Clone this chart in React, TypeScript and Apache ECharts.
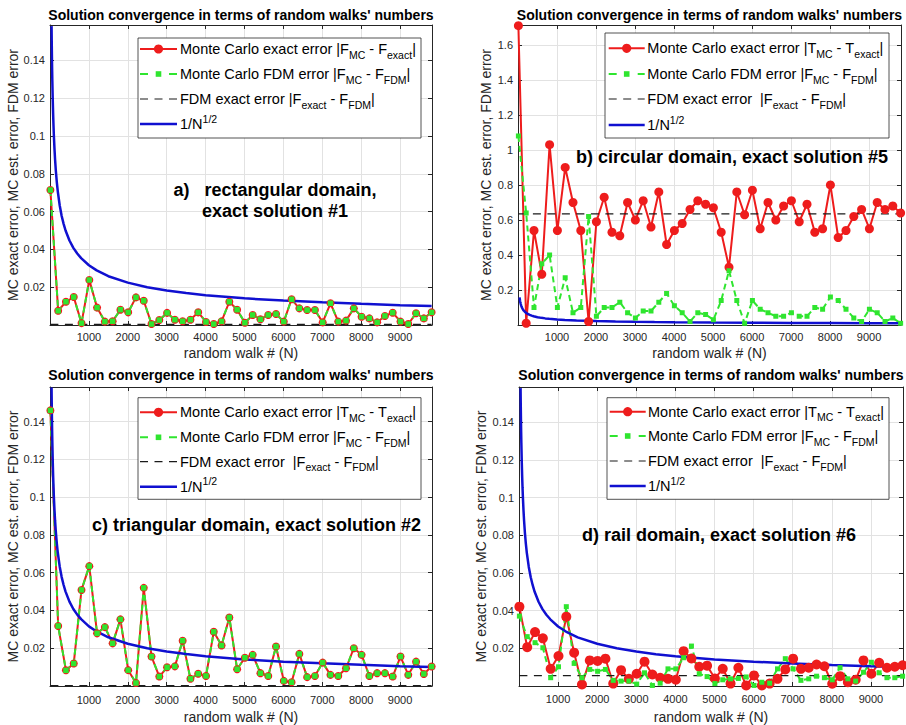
import React, { useEffect, useRef } from "react";
import * as echarts from "echarts";

const FONT = "'Liberation Sans', Arial, Helvetica, sans-serif";
const RED = "#ee1c1c";
const GREEN = "#2fe52f";
const BLUE = "#1010d0";
const BLACK = "#1a1a1a";
const AX = "#262626";
const GRIDC = "#e2e2e2";

// random walk numbers N
const walks = [
  10, 210, 410, 610, 810, 1010, 1210, 1410, 1610, 1810,
  2010, 2210, 2410, 2610, 2810, 3010, 3210, 3410, 3610, 3810,
  4010, 4210, 4410, 4610, 4810, 5010, 5210, 5410, 5610, 5810,
  6010, 6210, 6410, 6610, 6810, 7010, 7210, 7410, 7610, 7810,
  8010, 8210, 8410, 8610, 8810, 9010, 9210, 9410, 9610, 9810,
];

// a) rectangular domain
const redA = [
  0.0714, 0.0075, 0.0123, 0.0148, 0.001, 0.0238, 0.0092, 0.0018, 0.002, 0.0081,
  0.0067, 0.0146, 0.0128, 0.0005, 0.0026, 0.0064, 0.0028, 0.002, 0.0028, 0.0067,
  0.0016, 0.0005, 0.0019, 0.0123, 0.0081, 0.0012, 0.0053, 0.003, 0.0053, 0.0058,
  0.0018, 0.0136, 0.0088, 0.0079, 0.0079, 0.0014, 0.0115, 0.0018, 0.0023, 0.0088,
  0.0044, 0.0035, 0.0014, 0.0048, 0.0065, 0.0018, 0.0005, 0.0062, 0.0035, 0.0067,
];
const greenA = [
  0.0714, 0.0075, 0.0123, 0.0148, 0.001, 0.0238, 0.0092, 0.0018, 0.002, 0.0081,
  0.0067, 0.0146, 0.0128, 0.0005, 0.0026, 0.0064, 0.0028, 0.002, 0.0028, 0.0067,
  0.0016, 0.0005, 0.0019, 0.0123, 0.0081, 0.0012, 0.0053, 0.003, 0.0053, 0.0058,
  0.0018, 0.0136, 0.0088, 0.0079, 0.0079, 0.0014, 0.0115, 0.0018, 0.0023, 0.0088,
  0.0044, 0.0035, 0.0014, 0.0048, 0.0065, 0.0018, 0.0005, 0.0062, 0.0035, 0.0067,
];
const fdmA = 0.0003;

// b) circular domain
const redB = [
  1.71, 0.01, 0.54, 0.29, 1.03, 0.54, 0.9, 0.7, 0.54, 0.02,
  0.59, 0.73, 0.53, 0.51, 0.7, 0.6, 0.71, 0.56, 0.76, 0.46,
  0.54, 0.58, 0.66, 0.71, 0.69, 0.67, 0.53, 0.33, 0.76, 0.63,
  0.77, 0.55, 0.7, 0.6, 0.68, 0.71, 0.59, 0.69, 0.53, 0.55,
  0.8, 0.5, 0.54, 0.62, 0.66, 0.55, 0.7, 0.66, 0.68, 0.64,
];
const greenB = [
  1.08, 0.64, 0.1, 0.35, 0.4, 0.1, 0.27, 0.07, 0.1, 0.62,
  0.05, 0.1, 0.1, 0.13, 0.07, 0.04, 0.08, 0.08, 0.13, 0.18,
  0.11, 0.07, 0.02, 0.07, 0.06, 0.03, 0.14, 0.31, 0.14, 0.01,
  0.14, 0.09, 0.07, 0.05, 0.05, 0.07, 0.05, 0.05, 0.1, 0.09,
  0.16, 0.14, 0.09, 0.04, 0.02, 0.09, 0.07, 0.02, 0.04, 0.01,
];
const fdmB = 0.635;

// c) triangular domain
const redC = [
  0.146, 0.0318, 0.0083, 0.0119, 0.0509, 0.0635, 0.0279, 0.0312, 0.0226, 0.0353,
  0.0084, 0.0016, 0.052, 0.0156, 0.005, 0.0099, 0.0104, 0.024, 0.0038, 0.0065,
  0.0053, 0.0287, 0.0215, 0.0363, 0.0089, 0.015, 0.0165, 0.0068, 0.0053, 0.0209,
  0.0027, 0.002, 0.017, 0.0047, 0.0053, 0.0124, 0.0059, 0.0053, 0.0094, 0.02,
  0.0165, 0.0053, 0.0068, 0.0068, 0.005, 0.0156, 0.0059, 0.0129, 0.0064, 0.0103,
];
const greenC = [
  0.146, 0.0318, 0.0083, 0.0119, 0.0509, 0.0635, 0.0279, 0.0312, 0.0226, 0.0353,
  0.0084, 0.0016, 0.052, 0.0156, 0.005, 0.0099, 0.0104, 0.024, 0.0038, 0.0065,
  0.0053, 0.0287, 0.0215, 0.0363, 0.0089, 0.015, 0.0165, 0.0068, 0.0053, 0.0209,
  0.0027, 0.002, 0.017, 0.0047, 0.0053, 0.0124, 0.0059, 0.0053, 0.0094, 0.02,
  0.0165, 0.0053, 0.0068, 0.0068, 0.005, 0.0156, 0.0059, 0.0129, 0.0064, 0.0103,
];
const fdmC = 0.0002;

// d) rail domain
const redD = [
  0.0421, 0.0206, 0.0286, 0.0253, 0.0091, 0.0159, 0.0368, 0.0177, 0.0008, 0.0136,
  0.0133, 0.0145, 0.0013, 0.0084, 0.0038, 0.0065, 0.0129, 0.0061, 0.0044, 0.0038,
  0.0033, 0.0185, 0.0146, 0.0102, 0.0108, 0.004, 0.0091, 0.0013, 0.0097, 0.0003,
  0.0056, 0.0003, 0.0013, 0.0038, 0.0088, 0.0145, 0.0091, 0.0097, 0.0114, 0.0105,
  0.0012, 0.0052, 0.002, 0.0033, 0.0136, 0.0065, 0.0123, 0.0097, 0.0102, 0.011,
];
const greenD = [
  0.0371, 0.0262, 0.023, 0.0203, 0.0044, 0.0102, 0.0421, 0.012, 0.0044, 0.0088,
  0.0078, 0.0088, 0.003, 0.0026, 0.0026, 0.001, 0.007, 0.0003, 0.0015, 0.0091,
  0.0091, 0.015, 0.0212, 0.0065, 0.005, 0.0013, 0.0033, 0.0038, 0.004, 0.0048,
  0.0003, 0.002, 0.0015, 0.0091, 0.0145, 0.0091, 0.003, 0.0038, 0.0052, 0.0044,
  0.0033, 0.0097, 0.0038, 0.0026, 0.0073, 0.0126, 0.007, 0.0044, 0.0044, 0.0052,
];
const fdmD = 0.0055;

// 1/N^(1/2) reference curve, sampled values
const refN = [
  40, 45, 50, 55, 60, 70, 80, 90, 100, 115, 130, 150, 175, 200, 250, 300, 350,
  400, 500, 600, 700, 800, 1000, 1200, 1500, 2000, 2500, 3000, 3500, 4000, 5000,
  6000, 7000, 8000, 9000, 9810,
];
const refVal = [
  0.1581, 0.1491, 0.1414, 0.1348, 0.1291, 0.1195, 0.1118, 0.1054, 0.1, 0.0933,
  0.0877, 0.0816, 0.0756, 0.0707, 0.0632, 0.0577, 0.0535, 0.05, 0.0447, 0.0408,
  0.0378, 0.0354, 0.0316, 0.0289, 0.0258, 0.0224, 0.02, 0.0183, 0.0169, 0.0158,
  0.0141, 0.0129, 0.012, 0.0112, 0.0105, 0.0101,
];

const titleText = "Solution convergence in terms of random walks' numbers";
const xName = "random walk # (N)";
const yName = "MC exact error, MC est. error, FDM error";

const legendF = [
  "{m|Monte Carlo exact error |F}{s|MC}{m| - F}{s|exact}{m||}",
  "{m|Monte Carlo FDM error |F}{s|MC}{m| - F}{s|FDM}{m||}",
  "{m|FDM exact error |F}{s|exact}{m| - F}{s|FDM}{m||}",
  "{m|1/N}{p|1/2}",
];
const legendT = [
  "{m|Monte Carlo exact error |T}{s|MC}{m| - T}{s|exact}{m||}",
  "{m|Monte Carlo FDM error |F}{s|MC}{m| - F}{s|FDM}{m||}",
  "{m|FDM exact error  |F}{s|exact}{m| - F}{s|FDM}{m||}",
  "{m|1/N}{p|1/2}",
];

const notes = [
  "a)   rectangular domain,\nexact solution #1",
  "b) circular domain, exact solution #5",
  "c) triangular domain, exact solution #2",
  "d) rail domain, exact solution #6",
];

const series = [
  { red: redA, green: greenA, fdm: fdmA, legend: legendF },
  { red: redB, green: greenB, fdm: fdmB, legend: legendT },
  { red: redC, green: greenC, fdm: fdmC, legend: legendT },
  { red: redD, green: greenD, fdm: fdmD, legend: legendT },
];

// layout (pixels)
const layout = [
  { left: 50, top: 25, width: 382, height: 300, yMax: 0.1587, yInt: 0.02, titleY: 15.3,
    noteX: 275, noteY: 200.5, box: [138, 38, 283, 100], rows: [49, 74, 99, 124],
    lineX: [140, 177], textX: 180, xNameGap: 21, yNameGap: 30, xMargin: 6, redSize: 8, greenSize: 5.5 },
  { left: 518, top: 25, width: 383, height: 300, yMax: 1.714, yInt: 0.2, titleY: 15.3,
    noteX: 732, noteY: 157, box: [605, 33, 284, 105], rows: [48.3, 74, 99, 125],
    lineX: [608.7, 644.7], textX: 647.3, xNameGap: 21, yNameGap: 25, xMargin: 6, redSize: 9, greenSize: 5 },
  { left: 50, top: 387, width: 382, height: 299, yMax: 0.1584, yInt: 0.02, titleY: 375.3,
    noteX: 256.5, noteY: 525, box: [138, 397.7, 283, 101.6], rows: [412.3, 437.3, 461.7, 486.7],
    lineX: [140, 177], textX: 180, xNameGap: 24, yNameGap: 30, xMargin: 8, redSize: 8, greenSize: 5.5 },
  { left: 519, top: 387, width: 384, height: 299, yMax: 0.1587, yInt: 0.02, titleY: 375.3,
    noteX: 719, noteY: 535, box: [607, 397.7, 282, 101.6], rows: [411.7, 436, 461, 486],
    lineX: [609.7, 645.7], textX: 648, xNameGap: 24, yNameGap: 31, xMargin: 7, redSize: 10, greenSize: 5 },
];

const RICH = {
  m: { fontSize: 14.5, lineHeight: 22, fontFamily: FONT, fill: "#000", color: "#000" },
  s: { fontSize: 10.5, lineHeight: 12, fontFamily: FONT, fill: "#000", color: "#000", verticalAlign: "bottom" },
  p: { fontSize: 10.5, lineHeight: 12, fontFamily: FONT, fill: "#000", color: "#000", verticalAlign: "top" },
};

function textStyle(extra: any) {
  return {
    fontFamily: FONT,
    fill: "#000",
    align: "center",
    verticalAlign: "middle",
    textAlign: "center",
    textVerticalAlign: "middle",
    ...extra,
  };
}

function buildOption() {
  const grid: any[] = [];
  const xAxis: any[] = [];
  const yAxis: any[] = [];
  const s: any[] = [];
  const elements: any[] = [];

  layout.forEach((L, i) => {
    grid.push({ left: L.left, top: L.top, width: L.width, height: L.height, containLabel: false, outerBoundsMode: "none" });

    const tickCommon = { show: true, inside: true, length: 4, lineStyle: { color: AX, width: 1 } };
    const lineCommon = { show: true, onZero: false, lineStyle: { color: AX, width: 1 } };

    xAxis.push({
      type: "value", gridIndex: i, min: 0, max: 9820, interval: 1000, position: "bottom",
      axisLine: lineCommon, axisTick: tickCommon,
      axisLabel: {
        show: true, margin: L.xMargin, fontSize: 11, color: AX, fontFamily: FONT,
        formatter: (v: number) => (v > 0 && v % 1000 === 0 ? String(v) : ""),
      },
      splitLine: { show: true, lineStyle: { color: GRIDC, width: 1 } },
      name: xName, nameLocation: "middle", nameGap: L.xNameGap,
      nameTextStyle: { fontSize: 14, color: AX, fontFamily: FONT },
    });
    yAxis.push({
      type: "value", gridIndex: i, min: 0, max: L.yMax, interval: L.yInt, position: "left",
      axisLine: lineCommon, axisTick: tickCommon,
      axisLabel: {
        show: true, margin: 5, fontSize: 11, color: AX, fontFamily: FONT,
        formatter: (v: number) => {
          const r = v / L.yInt;
          if (v <= 0 || Math.abs(r - Math.round(r)) > 1e-6) return "";
          return String(Math.round(v * 1000) / 1000);
        },
      },
      splitLine: { show: true, lineStyle: { color: GRIDC, width: 1 } },
      name: yName, nameLocation: "middle", nameGap: L.yNameGap,
      nameTextStyle: { fontSize: 14, color: AX, fontFamily: FONT },
    });
  });
  // top / right box axes with inner ticks
  layout.forEach((L, i) => {
    const tickCommon = { show: true, inside: true, length: 4, lineStyle: { color: AX, width: 1 } };
    const lineCommon = { show: true, onZero: false, lineStyle: { color: AX, width: 1 } };
    xAxis.push({
      type: "value", gridIndex: i, min: 0, max: 9820, interval: 1000, position: "top",
      axisLine: lineCommon, axisTick: tickCommon, axisLabel: { show: false }, splitLine: { show: false },
    });
    yAxis.push({
      type: "value", gridIndex: i, min: 0, max: L.yMax, interval: L.yInt, position: "right",
      axisLine: lineCommon, axisTick: tickCommon, axisLabel: { show: false }, splitLine: { show: false },
    });
  });

  layout.forEach((L, i) => {
    const D = series[i];
    s.push({
      type: "line", xAxisIndex: i, yAxisIndex: i, name: "mcExact" + i,
      data: walks.map((w, k) => [w, D.red[k]]),
      symbol: "circle", symbolSize: L.redSize, showSymbol: true,
      lineStyle: { color: RED, width: 2 }, itemStyle: { color: RED },
      silent: true, emphasis: { disabled: true },
    });
    s.push({
      type: "line", xAxisIndex: i, yAxisIndex: i, name: "mcFdm" + i,
      data: walks.map((w, k) => [w, D.green[k]]),
      symbol: "rect", symbolSize: L.greenSize, showSymbol: true,
      lineStyle: { color: GREEN, width: 2, type: [6, 4] }, itemStyle: { color: GREEN },
      silent: true, emphasis: { disabled: true },
    });
    s.push({
      type: "line", xAxisIndex: i, yAxisIndex: i, name: "fdm" + i,
      data: [[walks[0], D.fdm], [walks[walks.length - 1], D.fdm]],
      symbol: "none", showSymbol: false,
      lineStyle: { color: BLACK, width: 1.2, type: [8, 6.5] },
      silent: true, emphasis: { disabled: true },
    });
    s.push({
      type: "line", xAxisIndex: i, yAxisIndex: i, name: "ref" + i,
      data: refN.map((n, k) => [n, refVal[k]]),
      symbol: "none", showSymbol: false,
      lineStyle: { color: BLUE, width: 2.5 },
      silent: true, emphasis: { disabled: true },
    });

    // title
    elements.push({
      type: "text", x: L.left + L.width / 2, y: L.titleY, z: 60,
      style: textStyle({ text: titleText, fontSize: 14, fontWeight: "bold" }),
    });
    // annotation
    elements.push({
      type: "text", x: L.noteX, y: L.noteY, z: 60,
      style: textStyle({ text: notes[i], fontSize: 18, fontWeight: "bold", lineHeight: 21 }),
    });
    // legend box
    const [bx, by, bw, bh] = L.box;
    elements.push({
      type: "rect", z: 50, shape: { x: bx, y: by, width: bw, height: bh },
      style: { fill: "#fff", stroke: AX, lineWidth: 0.8 },
    });
    const [x0, x1] = L.lineX;
    const xm = (x0 + x1) / 2;
    const r = L.rows;
    elements.push({ type: "line", z: 51, shape: { x1: x0, y1: r[0], x2: x1, y2: r[0] }, style: { stroke: RED, lineWidth: 2 } });
    elements.push({ type: "circle", z: 52, shape: { cx: xm, cy: r[0], r: 4.6 }, style: { fill: RED } });
    elements.push({ type: "line", z: 51, shape: { x1: x0, y1: r[1], x2: x1, y2: r[1] }, style: { stroke: GREEN, lineWidth: 2, lineDash: [8, 21] } });
    elements.push({ type: "rect", z: 52, shape: { x: xm - 2.8, y: r[1] - 2.8, width: 5.6, height: 5.6 }, style: { fill: GREEN } });
    elements.push({ type: "line", z: 51, shape: { x1: x0, y1: r[2], x2: x1, y2: r[2] }, style: { stroke: BLACK, lineWidth: 1.2, lineDash: [8, 6.5] } });
    elements.push({ type: "line", z: 51, shape: { x1: x0, y1: r[3], x2: x1, y2: r[3] }, style: { stroke: BLUE, lineWidth: 2.5 } });
    D.legend.forEach((t, k) => {
      elements.push({
        type: "text", x: L.textX, y: r[k], z: 53,
        style: {
          text: t, rich: RICH, fontFamily: FONT, fontSize: 14.5, fill: "#000",
          align: "left", verticalAlign: "middle", textAlign: "left", textVerticalAlign: "middle",
        },
      });
    });
  });

  return {
    animation: false,
    backgroundColor: "#fff",
    textStyle: { fontFamily: FONT },
    grid,
    xAxis,
    yAxis,
    series: s,
    graphic: { elements },
  };
}

export default function App() {
  const ref = useRef<HTMLDivElement>(null);
  useEffect(() => {
    document.body.style.margin = "0";
    const chart = echarts.init(ref.current as HTMLDivElement, undefined, { renderer: "svg" });
    chart.setOption(buildOption() as any);
    return () => chart.dispose();
  }, []);
  return (
    <div
      ref={ref}
      style={{ width: 906, height: 725, position: "absolute", left: 0, top: 0, background: "#fff" }}
    />
  );
}
